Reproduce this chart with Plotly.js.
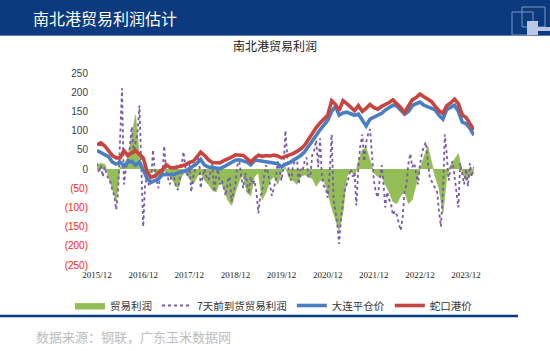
<!DOCTYPE html>
<html><head><meta charset="utf-8">
<script src="https://cdn.plot.ly/plotly-3.0.1.min.js"></script>
<style>html,body{margin:0;padding:0;background:#fff;overflow:hidden}#chart{width:550px;height:351px}</style>
</head><body><div id="chart"></div>
<script>
// ---- data (monthly, starting 2015/12) ----
const startYear = 2015, startMonth = 12;
const shekouPrice = [63,68,60,48,35,29,29,48,35,42,48,38,29,-8,-22,-18,-10,-2,11,4,3,5,9,11,
  17,20,32,44,35,24,17,16,16,22,26,31,37,37,35,28,18,28,36,33,35,34,36,34,29,
  33,36,40,46,52,62,78,95,108,120,130,140,178,168,152,178,170,160,152,165,150,158,168,160,156,
  163,167,173,180,171,160,147,165,180,186,195,188,183,176,163,152,145,165,172,182,170,141,134,118,102];
const dalianPrice = [48,43,38,32,18,13,18,8,18,20,10,18,-2,-25,-35,-30,-26,-15,-15,-14,-14,-10,-8,-5,
  0,7,15,25,10,5,3,1,1,6,12,19,23,24,22,18,11,22,22,20,18,16,16,14,5,
  12,16,22,30,35,45,58,72,88,102,115,127,150,163,140,146,148,143,140,143,128,112,130,135,139,
  145,153,160,166,164,155,143,150,165,170,174,166,162,159,154,140,130,155,160,166,150,122,118,106,88];
const tradeProfit = [10,15,12,-20,-50,-84,5,12,30,90,140,30,0,-15,-10,-5,-30,-10,-5,-20,-35,-50,-20,-5,
  -25,-40,-20,-10,-30,-40,-55,-60,-30,-50,-80,-95,-60,-30,-15,-60,-70,-20,-10,-80,-60,-30,-20,-40,-10,
  5,-25,-30,-40,-20,-15,-20,-25,-45,-30,-30,-60,-100,-130,-160,-110,-20,0,-20,20,50,55,20,-10,-20,
  -20,-40,-60,-85,-90,-70,-60,-90,-80,-40,0,30,60,20,-20,-50,-115,-20,10,25,40,-10,-30,-20,0];
// semi-monthly (1st and 16th of each month), starting 2015/12
const profit7d = [15,-10,10,-20,5,-15,-25,-35,-55,-70,-106,-60,80,210,-40,0,20,55,110,40,70,90,165,30,
  -150,-40,-20,-45,-35,50,0,-30,-50,-10,-20,60,-5,-25,-40,-10,-20,-45,-55,-30,10,45,0,-20,
  20,-60,-20,0,20,30,-50,-20,0,-20,-30,-10,15,-60,-20,0,-40,-30,-55,-70,-30,-20,-85,-60,-40,10,20,-20,-50,-10,-30,-65,-20,-40,-30,-60,-115,-70,-60,-20,10,-10,-40,-70,-50,-30,20,-10,-30,0,
  100,30,-20,-30,10,20,30,-40,0,-5,20,30,-20,-20,40,48,75,5,80,-20,-45,-50,-75,-10,90,-80,-110,-150,-195,-130,-80,-50,-40,-20,0,-20,-10,-95,10,60,90,20,70,90,104,40,-30,-60,-74,-30,
  10,-40,-100,-60,-80,-90,-120,-110,-120,-140,-160,-130,-60,-40,15,40,5,15,-10,-40,10,40,58,70,20,-20,-30,-40,-50,-60,-110,-150,-60,90,40,-30,5,20,-20,-60,-100,15,-20,-40,0,-45,15,-20,5];
const tickYears = ['2015/12','2016/12','2017/12','2018/12','2019/12','2020/12','2021/12','2022/12','2023/12'];
const yTicks = [250,200,150,100,50,0,-50,-100,-150,-200,-250];
const names = ['贸易利润','7天前到货贸易利润','大连平仓价','蛇口港价'];

function dateOf(i, day){
  const t = startMonth - 1 + i;
  const y = startYear + Math.floor(t/12), m = t % 12 + 1;
  return y + '-' + String(m).padStart(2,'0') + '-' + day;
}
const monthDates = shekouPrice.map((_, i) => dateOf(i, '01'));
const halfDates = profit7d.map((_, i) => dateOf(Math.floor(i/2), i % 2 ? '16' : '01'));
const tickVals = tickYears.map(s => s.replace('/', '-') + '-01');
const yText = yTicks.map(v => v < 0 ? '<span style="color:#FF2020">(' + (-v) + ')</span>' : String(v));

// ---- layout geometry ----
const W = 550, H = 351, L = 97, R = 76, T = 73, B = 86;
const pw = W - L - R, ph = H - T - B;
const fx = px => (px - L) / pw;
const fy = py => (H - B - py) / ph;
const navy = '#0B3A7E';

const traces = [
  {x: monthDates, y: tradeProfit, name: names[0], type: 'scatter', mode: 'lines',
   fill: 'tozeroy', fillcolor: '#93BE57', line: {color: '#93BE57', width: 0.8}},
  {x: halfDates, y: profit7d, name: names[1], type: 'scatter', mode: 'lines',
   line: {color: '#7B5AA6', width: 1.8, dash: 'dot'}},
  {x: monthDates, y: dalianPrice, name: names[2], type: 'scatter', mode: 'lines',
   line: {color: '#4A7EC2', width: 3.6}},
  {x: monthDates, y: shekouPrice, name: names[3], type: 'scatter', mode: 'lines',
   line: {color: '#C8453F', width: 3.6}}
];

const layout = {
  width: W, height: H,
  margin: {l: L, r: R, t: T, b: B, pad: 0},
  paper_bgcolor: '#fff', plot_bgcolor: '#fff',
  font: {family: 'Liberation Sans, Arial, sans-serif', color: '#333'},
  title: {text: '南北港贸易利润', x: 275/W, xanchor: 'center', y: 1 - 47/H, yanchor: 'middle',
          font: {family: 'Noto Sans CJK SC', size: 12, color: '#222'}},
  xaxis: {type: 'date', range: ['2015-12-01', '2024-02-02'], tickvals: tickVals, ticktext: tickYears,
          showgrid: false, zeroline: false, showline: false, ticks: '',
          tickfont: {family: 'Liberation Serif', size: 9, color: '#222'}, ticklabelstandoff: 3},
  yaxis: {range: [-250, 250], tickvals: yTicks, ticktext: yText, showgrid: false, zeroline: false,
          showline: false, ticks: '', ticklabelstandoff: 8,
          tickfont: {family: 'Liberation Sans', size: 10, color: '#404040'}},
  showlegend: true,
  legend: {orientation: 'h', x: fx(70), xanchor: 'left', y: fy(291), yanchor: 'top',
           font: {family: 'Noto Sans CJK SC', size: 10.5, color: '#333'}, bgcolor: 'rgba(0,0,0,0)',
           traceorder: 'normal'},
  shapes: [
    {type: 'rect', xref: 'paper', yref: 'paper', x0: fx(0), x1: fx(W), y0: fy(35), y1: fy(0),
     fillcolor: navy, line: {width: 0}, layer: 'below'},
    {type: 'line', xref: 'paper', yref: 'paper', x0: fx(0), x1: fx(W), y0: fy(35.5), y1: fy(35.5),
     line: {color: '#5E7FB0', width: 1}},
    {type: 'rect', xref: 'paper', yref: 'paper', x0: fx(512), x1: fx(533), y0: fy(35), y1: fy(12),
     line: {color: '#7F97BF', width: 1}},
    {type: 'rect', xref: 'paper', yref: 'paper', x0: fx(522), x1: fx(545), y0: fy(27), y1: fy(7),
     line: {color: '#7F97BF', width: 1}},
    {type: 'rect', xref: 'paper', yref: 'paper', x0: fx(527), x1: fx(538), y0: fy(35), y1: fy(21),
     fillcolor: '#B9C8E0', line: {width: 0}},
    {type: 'rect', xref: 'paper', yref: 'paper', x0: fx(538), x1: fx(550), y0: fy(31), y1: fy(27),
     fillcolor: '#B9C8E0', line: {width: 0}},
    {type: 'line', xref: 'paper', yref: 'paper', x0: fx(0), x1: fx(518), y0: fy(316), y1: fy(316),
     line: {color: navy, width: 2.5}}
  ],
  annotations: [
    {text: '南北港贸易利润估计', xref: 'paper', yref: 'paper', x: fx(31), y: fy(18),
     xanchor: 'left', yanchor: 'middle', showarrow: false,
     font: {family: 'Noto Sans CJK SC', size: 16, color: '#fff'}},
    {text: '数据来源：钢联，广东玉米数据网', xref: 'paper', yref: 'paper', x: fx(34), y: fy(336),
     xanchor: 'left', yanchor: 'middle', showarrow: false,
     font: {family: 'Noto Sans CJK SC', size: 13, color: '#BDBDBD'}}
  ]
};

Plotly.newPlot('chart', traces, layout, {displayModeBar: false, staticPlot: true});
</script></body></html>
